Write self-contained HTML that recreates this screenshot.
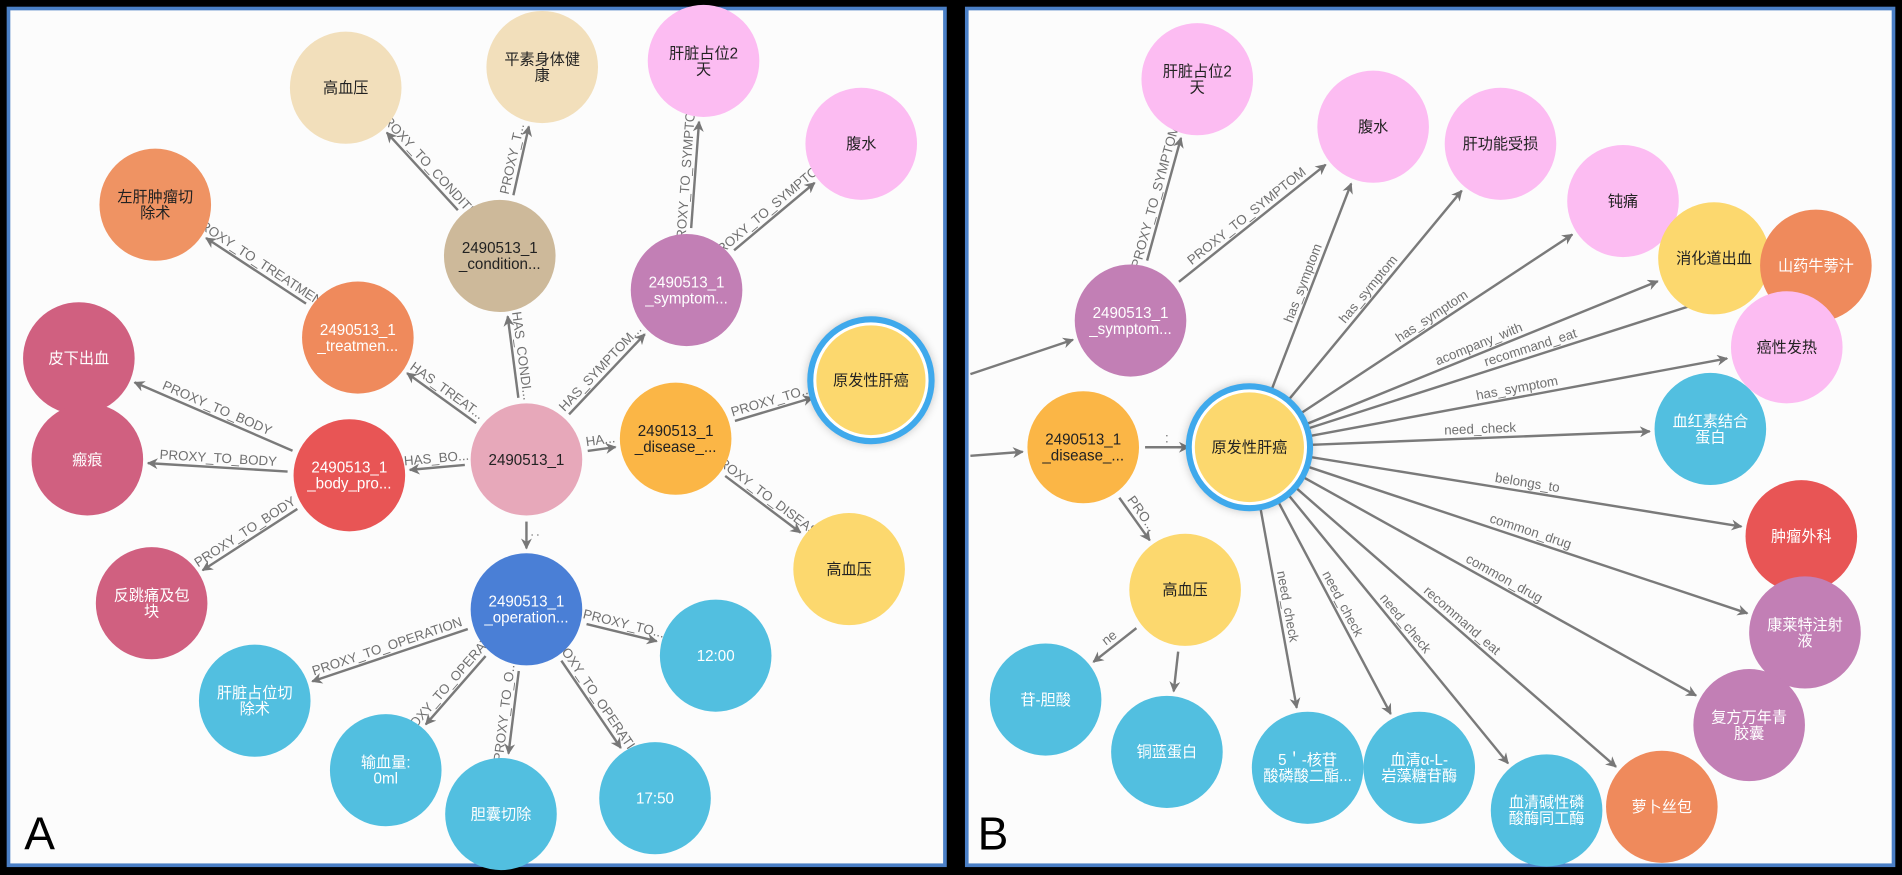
<!DOCTYPE html>
<html><head><meta charset="utf-8">
<style>
html,body{margin:0;padding:0;background:#000;}
svg{display:block;}
text{font-family:"Liberation Sans","Noto Sans CJK SC",sans-serif;}
</style></head>
<body>
<svg id="s" width="1902" height="875" viewBox="0 0 1568 718" preserveAspectRatio="none" xmlns="http://www.w3.org/2000/svg">
<defs>
<marker id="ar" viewBox="0 0 10 10" refX="9" refY="5" markerWidth="10" markerHeight="9" orient="auto" markerUnits="userSpaceOnUse">
<path d="M0,0 L10,5 L0,10 L3,5 z" fill="#777"/></marker>
<filter id="sh" x="-30%" y="-30%" width="160%" height="160%"><feGaussianBlur stdDeviation="4"/></filter>
</defs>
<rect x="0" y="0" width="1568" height="718" fill="#000"/>
<rect x="7" y="7" width="772" height="703" fill="#fcfcfc" stroke="#4a7fc6" stroke-width="3"/>
<rect x="797" y="7" width="764" height="703" fill="#fcfcfc" stroke="#4a7fc6" stroke-width="3"/>
<g id="edges"></g>
<g id="nodes"></g>
<text x="20" y="697" font-size="38" fill="#000">A</text>
<text x="806" y="697" font-size="38" fill="#000">B</text>
</svg>
<script>
var NS="http://www.w3.org/2000/svg";
var CR="#f2dfbb",PK="#fcbcf2",OR="#ef9363",TN="#cdb99a",PU="#c27fb5",YE="#fcd86e",RO="#d06080",RD="#e85555",LP="#e7a8ba",DO="#fbb646",BL="#4a7fd6",CY="#52bfe0";
var N={
a1:[285,72,CR,"高血压",0],
a2:[447,55,CR,"平素身体健\n康",0],
a3:[580,50,PK,"肝脏占位2\n天",0],
a4:[710,118,PK,"腹水",0],
a5:[128,168,OR,"左肝肿瘤切\n除术",0],
a6:[412,210,TN,"2490513_1\n_condition...",0],
a7:[566,238,PU,"2490513_1\n_symptom...",1],
a8:[718,312,YE,"原发性肝癌",0,1],
a9:[295,277,"#ef8a5c","2490513_1\n_treatmen...",1],
a10:[65,294,RO,"皮下出血",1],
a11:[72,377,RO,"瘢痕",1],
a12:[288,390,RD,"2490513_1\n_body_pro...",1],
a13:[434,377,LP,"2490513_1",0],
a14:[557,360,DO,"2490513_1\n_disease_...",0],
a15:[700,467,YE,"高血压",0],
a16:[125,495,RO,"反跳痛及包\n块",1],
a17:[434,500,BL,"2490513_1\n_operation...",1],
a18:[590,538,CY,"12:00",1],
a19:[210,575,CY,"肝脏占位切\n除术",1],
a20:[318,632,CY,"输血量:\n0ml",1],
a21:[413,668,CY,"胆囊切除",1],
a22:[540,655,CY,"17:50",1],
b1:[987,65,PK,"肝脏占位2\n天",0],
b2:[1132,104,PK,"腹水",0],
b3:[1237,118,PK,"肝功能受损",0],
b4:[1338,165,PK,"钝痛",0],
b5:[1413,212,YE,"消化道出血",0],
b6:[1497,218,"#ef8a5c","山药牛蒡汁",1],
b7:[1473,285,PK,"癌性发热",0],
b8:[932,263,PU,"2490513_1\n_symptom...",1],
b9:[1410,352,CY,"血红素结合\n蛋白",1],
b10:[893,367,DO,"2490513_1\n_disease_...",0],
b11:[1030,367,YE,"原发性肝癌",0,1],
b12:[1485,440,RD,"肿瘤外科",1],
b13:[977,484,YE,"高血压",0],
b14:[1488,519,PU,"康莱特注射\n液",1],
b15:[862,574,CY,"苷-胆酸",1],
b16:[1442,595,PU,"复方万年青\n胶囊",1],
b17:[962,617,CY,"铜蓝蛋白",1],
b18:[1078,630,CY,"5＇-核苷\n酸磷酸二酯...",1],
b19:[1170,630,CY,"血清α-L-\n岩藻糖苷酶",1],
b20:[1275,665,CY,"血清碱性磷\n酸酶同工酶",1],
b21:[1370,662,"#ef8a5c","萝卜丝包",1]
};
var R=46;
var E=[
["a13","a6","HAS_CONDI..."],["a13","a9","HAS_TREAT..."],["a13","a12","HAS_BO..."],["a13","a7","HAS_SYMPTOM..."],["a13","a14","HA..."],["a13","a17",":"],
["a6","a1","PROXY_TO_CONDITIO"],["a6","a2","PROXY_T..."],["a7","a3","PROXY_TO_SYMPTOM"],["a7","a4","PROXY_TO_SYMPTOM"],
["a9","a5","PROXY_TO_TREATMENT"],["a12","a10","PROXY_TO_BODY"],["a12","a11","PROXY_TO_BODY"],["a12","a16","PROXY_TO_BODY"],
["a14","a8","PROXY_TO..."],["a14","a15","PROXY_TO_DISEASE"],
["a17","a18","PROXY_TO..."],["a17","a19","PROXY_TO_OPERATION"],["a17","a20","PROXY_TO_OPERATIO"],["a17","a21","PROXY_TO_O..."],["a17","a22","PROXY_TO_OPERATION"],
["b8","b1","PROXY_TO_SYMPTOM"],["b8","b2","PROXY_TO_SYMPTOM"],["b10","b11",":"],["b10","b13","PRO..."],
["b11","b2","has_symptom"],["b11","b3","has_symptom"],["b11","b4","has_symptom"],["b11","b5","acompany_with"],["b11","b6","recommand_eat"],["b11","b7","has_symptom"],["b11","b9","need_check"],["b11","b12","belongs_to"],["b11","b14","common_drug"],["b11","b16","common_drug"],["b11","b21","recommand_eat"],["b11","b20","need_check"],["b11","b19","need_check"],["b11","b18","need_check"],
["b13","b15","ne"],["b13","b17",""],
[[800,307],"b8",""],[[800,374],"b10",""]
];
var eg=document.getElementById("edges"),ng=document.getElementById("nodes");
function el(t,a,p){var e=document.createElementNS(NS,t);for(var k in a)e.setAttribute(k,a[k]);p.appendChild(e);return e;}
E.forEach(function(d){
 var s=typeof d[0]=="string"?N[d[0]]:d[0],t=N[d[1]];
 var dx=t[0]-s[0],dy=t[1]-s[1],L=Math.sqrt(dx*dx+dy*dy),ux=dx/L,uy=dy/L;
 var r0=typeof d[0]=="string"?R+5:0;
 var x1=s[0]+ux*r0,y1=s[1]+uy*r0,x2=t[0]-ux*(R+4),y2=t[1]-uy*(R+4);
 el("line",{x1:x1,y1:y1,x2:x2,y2:y2,stroke:"#7a7a7a","stroke-width":2,"marker-end":"url(#ar)"},eg);
 if(d[2]){
  var mx=(x1+x2)/2,my=(y1+y2)/2,ang=Math.atan2(dy,dx)*180/Math.PI;
  if(ang>90)ang-=180;if(ang<-90)ang+=180;
  var tx=el("text",{x:0,y:-4,"font-size":11,fill:"#707070","text-anchor":"middle",transform:"translate("+mx+","+my+") rotate("+ang+")"},eg);
  tx.textContent=d[2];
 }
});
Object.keys(N).forEach(function(k){
 var n=N[k];
 if(n[5]){el("circle",{cx:n[0],cy:n[1],r:R+6,fill:"#000",opacity:0.25,filter:"url(#sh)"},ng);
  el("circle",{cx:n[0],cy:n[1],r:R+4,fill:"#fff",stroke:"#3fa9ec","stroke-width":5},ng);
  el("circle",{cx:n[0],cy:n[1],r:R-1,fill:n[2]},ng);}
 else el("circle",{cx:n[0],cy:n[1],r:R,fill:n[2]},ng);
 var lines=n[3].split("\n"),fs=12.5;
 lines.forEach(function(l,i){
  var y=n[1]+fs*0.35+(i-(lines.length-1)/2)*fs*1.05;
  var t=el("text",{x:n[0],y:y,"font-size":fs,fill:n[4]?"#fff":"#222","text-anchor":"middle"},ng);
  t.textContent=l;
 });
});
</script>
</body></html>
